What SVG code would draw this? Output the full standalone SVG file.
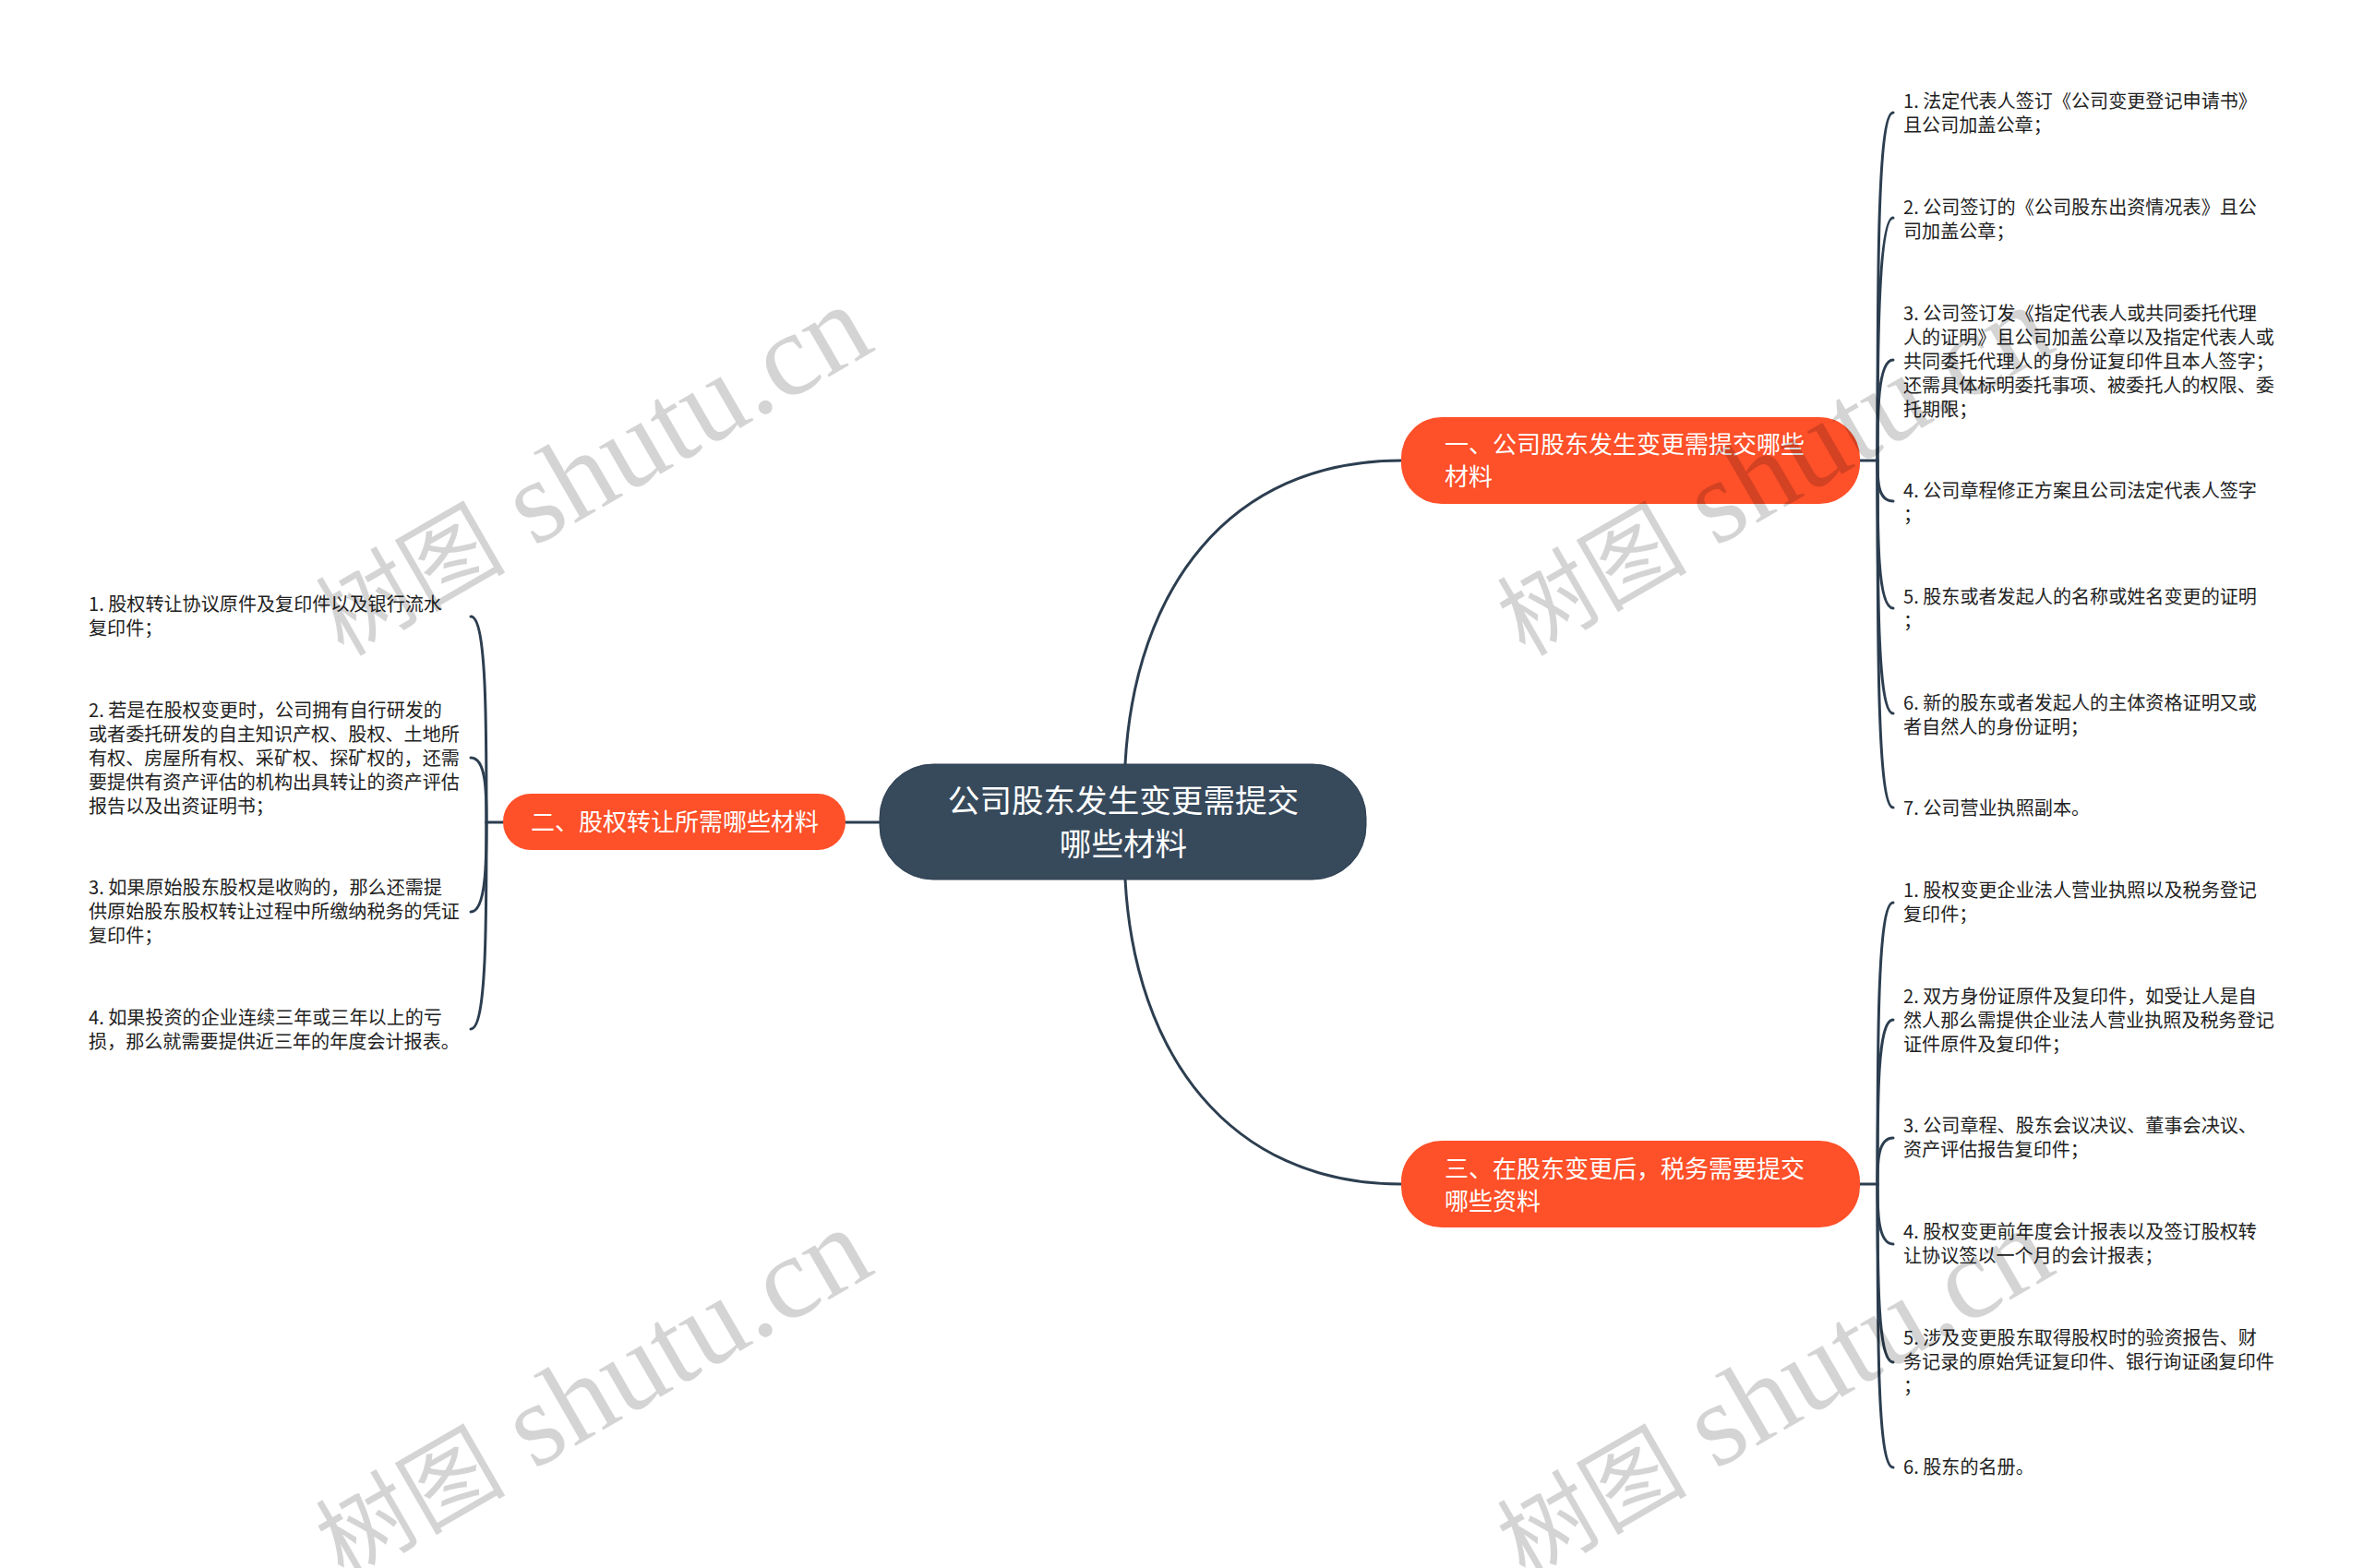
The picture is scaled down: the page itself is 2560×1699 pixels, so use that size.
<svg xmlns="http://www.w3.org/2000/svg" width="2560" height="1699" viewBox="0 0 2560 1699">
<style>
text{font-family:"Noto Sans CJK SC","Noto Sans",sans-serif}
.leaf{font-size:20.1px;fill:#222}
.b{font-size:26px;fill:#fff}
.r{font-size:34.6px;fill:#fff;text-anchor:middle}
.c{fill:none;stroke:#2c3e50;stroke-width:3;stroke-linecap:round}
.br{fill:#fe5029}
.wm{font-family:"Liberation Serif","Noto Sans CJK SC",serif;font-size:128px;fill:#000;fill-opacity:.17}
.wc{font-size:103px}
</style>
<rect width="2560" height="1699" fill="#fff"/>
<g id="connectors">
<path class="c" d="M1219 828C1229 640 1330 499 1518 499"/>
<path class="c" d="M1219 953C1229 1140 1330 1283 1518 1283"/>
<path class="c" d="M916 891H953"/>
<path class="c" d="M2015 499H2034"/>
<path class="c" d="M2034 499C2034 300 2034 122 2051 122"/>
<path class="c" d="M2034 499C2034 400 2034 236 2051 236"/>
<path class="c" d="M2034 499C2034 450 2034 390 2051 390"/>
<path class="c" d="M2034 499C2034 520 2034 543 2051 543"/>
<path class="c" d="M2034 499C2034 580 2034 659 2051 659"/>
<path class="c" d="M2034 499C2034 640 2034 773 2051 773"/>
<path class="c" d="M2034 499C2034 700 2034 875 2051 875"/>
<path class="c" d="M2015 1283H2034"/>
<path class="c" d="M2034 1283C2034 1130 2034 978 2051 978"/>
<path class="c" d="M2034 1283C2034 1190 2034 1105 2051 1105"/>
<path class="c" d="M2034 1283C2034 1260 2034 1233 2051 1233"/>
<path class="c" d="M2034 1283C2034 1310 2034 1348 2051 1348"/>
<path class="c" d="M2034 1283C2034 1380 2034 1476 2051 1476"/>
<path class="c" d="M2034 1283C2034 1450 2034 1590 2051 1590"/>
<path class="c" d="M545 891H527"/>
<path class="c" d="M527 891C527 780 527 668 510 668"/>
<path class="c" d="M527 891C527 860 527 821 510 821"/>
<path class="c" d="M527 891C527 930 527 988 510 988"/>
<path class="c" d="M527 891C527 1000 527 1115 510 1115"/>
</g>
<g id="root"><rect x="953" y="828" width="527" height="125" rx="58" fill="#374a5c" stroke="#2c3e50"/>
<text class="r" x="1217" y="880">公司股东发生变更需提交</text><text class="r" x="1217" y="927">哪些材料</text></g>
<g id="branch1"><rect class="br" x="1518" y="452" width="497" height="94" rx="44"/>
<text class="b" x="1565" y="491">一、公司股东发生变更需提交哪些</text><text class="b" x="1565" y="526">材料</text></g>
<g id="branch2"><rect class="br" x="545" y="860" width="371" height="61" rx="30"/>
<text class="b" x="575" y="900">二、股权转让所需哪些材料</text></g>
<g id="branch3"><rect class="br" x="1518" y="1236" width="497" height="94" rx="44"/>
<text class="b" x="1565" y="1276">三、在股东变更后，税务需要提交</text><text class="b" x="1565" y="1311">哪些资料</text></g>
<g id="r1-1"><text class="leaf" y="117"><tspan x="2062">1. 法定代表人签订《公司变更登记申请书》</tspan><tspan x="2062" dy="26">且公司加盖公章；</tspan></text></g>
<g id="r1-2"><text class="leaf" y="232"><tspan x="2062">2. 公司签订的《公司股东出资情况表》且公</tspan><tspan x="2062" dy="26">司加盖公章；</tspan></text></g>
<g id="r1-3"><text class="leaf" y="347"><tspan x="2062">3. 公司签订发《指定代表人或共同委托代理</tspan><tspan x="2062" dy="26">人的证明》且公司加盖公章以及指定代表人或</tspan><tspan x="2062" dy="26">共同委托代理人的身份证复印件且本人签字；</tspan><tspan x="2062" dy="26">还需具体标明委托事项、被委托人的权限、委</tspan><tspan x="2062" dy="26">托期限；</tspan></text></g>
<g id="r1-4"><text class="leaf" y="539"><tspan x="2062">4. 公司章程修正方案且公司法定代表人签字</tspan><tspan x="2062" dy="26">；</tspan></text></g>
<g id="r1-5"><text class="leaf" y="654"><tspan x="2062">5. 股东或者发起人的名称或姓名变更的证明</tspan><tspan x="2062" dy="26">；</tspan></text></g>
<g id="r1-6"><text class="leaf" y="769"><tspan x="2062">6. 新的股东或者发起人的主体资格证明又或</tspan><tspan x="2062" dy="26">者自然人的身份证明；</tspan></text></g>
<g id="r1-7"><text class="leaf" x="2062" y="883">7. 公司营业执照副本。</text></g>
<g id="r3-1"><text class="leaf" y="972"><tspan x="2062">1. 股权变更企业法人营业执照以及税务登记</tspan><tspan x="2062" dy="26">复印件；</tspan></text></g>
<g id="r3-2"><text class="leaf" y="1087"><tspan x="2062">2. 双方身份证原件及复印件，如受让人是自</tspan><tspan x="2062" dy="26">然人那么需提供企业法人营业执照及税务登记</tspan><tspan x="2062" dy="26">证件原件及复印件；</tspan></text></g>
<g id="r3-3"><text class="leaf" y="1227"><tspan x="2062">3. 公司章程、股东会议决议、董事会决议、</tspan><tspan x="2062" dy="26">资产评估报告复印件；</tspan></text></g>
<g id="r3-4"><text class="leaf" y="1342"><tspan x="2062">4. 股权变更前年度会计报表以及签订股权转</tspan><tspan x="2062" dy="26">让协议签以一个月的会计报表；</tspan></text></g>
<g id="r3-5"><text class="leaf" y="1457"><tspan x="2062">5. 涉及变更股东取得股权时的验资报告、财</tspan><tspan x="2062" dy="26">务记录的原始凭证复印件、银行询证函复印件</tspan><tspan x="2062" dy="26">；</tspan></text></g>
<g id="r3-6"><text class="leaf" x="2062" y="1597">6. 股东的名册。</text></g>
<g id="l-1"><text class="leaf" y="662"><tspan x="96">1. 股权转让协议原件及复印件以及银行流水</tspan><tspan x="96" dy="26">复印件；</tspan></text></g>
<g id="l-2"><text class="leaf" y="777"><tspan x="96">2. 若是在股权变更时，公司拥有自行研发的</tspan><tspan x="96" dy="26">或者委托研发的自主知识产权、股权、土地所</tspan><tspan x="96" dy="26">有权、房屋所有权、采矿权、探矿权的，还需</tspan><tspan x="96" dy="26">要提供有资产评估的机构出具转让的资产评估</tspan><tspan x="96" dy="26">报告以及出资证明书；</tspan></text></g>
<g id="l-3"><text class="leaf" y="969"><tspan x="96">3. 如果原始股东股权是收购的，那么还需提</tspan><tspan x="96" dy="26">供原始股东股权转让过程中所缴纳税务的凭证</tspan><tspan x="96" dy="26">复印件；</tspan></text></g>
<g id="l-4"><text class="leaf" y="1110"><tspan x="96">4. 如果投资的企业连续三年或三年以上的亏</tspan><tspan x="96" dy="26">损，那么就需要提供近三年的年度会计报表。</tspan></text></g>
<g id="watermarks">
<text class="wm" transform="translate(372 712) rotate(-30)"><tspan class="wc">树图</tspan> shutu.cn</text>
<text class="wm" transform="translate(1652 712) rotate(-30)"><tspan class="wc">树图</tspan> shutu.cn</text>
<text class="wm" transform="translate(372 1712) rotate(-30)"><tspan class="wc">树图</tspan> shutu.cn</text>
<text class="wm" transform="translate(1652 1712) rotate(-30)"><tspan class="wc">树图</tspan> shutu.cn</text>
</g>
</svg>
